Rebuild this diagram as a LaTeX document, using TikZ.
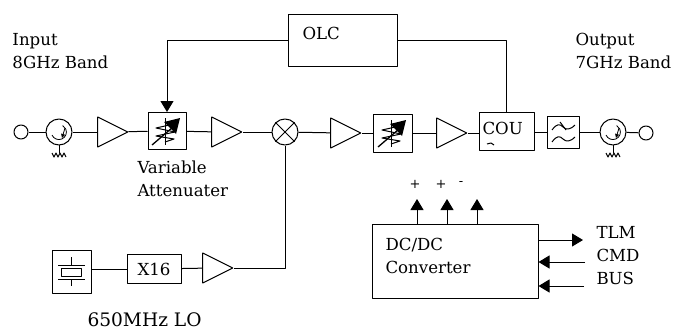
\documentclass[tikz,border=0pt]{standalone}
\usepackage{fontspec}
\setmainfont{DejaVu Serif}
\usetikzlibrary{shapes.geometric,arrows.meta}
\tikzset{
	box/.style={draw,rectangle,inner sep=0pt},
	amp/.style={draw,isosceles triangle,isosceles triangle stretches,inner sep=0pt,minimum width=30pt,minimum height=30pt,shape border rotate=0},
	ring/.style={draw,circle,inner sep=0pt,minimum size=#1},
	txt/.style={inner sep=0pt,anchor=base west,font=\fontsize{16.6}{19}\selectfont},
	% icons drawn inside the blocks
	attn/.pic={
		\draw (-2,-13)--(-2,14);
		\draw (-2,-9)--(7,-7)--(-11,-3)--(8,1)--(-11,5)--(7,8)--(-2,11);
		\draw[line width=1.3pt] (-15,14)--(6,-4);
		\fill (-3,-9)--(13,-13)--(9,3)--cycle;
	},
	circ/.pic={
		\draw[line width=.8pt] (-7,3) arc (157:-60:7.5);
		\draw[line width=.8pt,-{Stealth[inset=0pt,length=4pt,width=4pt]}] (6,-4)--(3,6);
		\draw (0,13)--(0,21);
		\draw (-7,21)--(-5,25)--(-3,21)--(-1,25)--(1,21)--(3,25)--(5,21)--(7,25);
	}
}
\begin{document}
\begin{tikzpicture}[x=1pt,y=-1pt,line width=1pt,>={Stealth[inset=0pt,length=11pt,width=13pt]},line join=round]
	\useasboundingbox (0,0) rectangle (674,329);
	% main chain
	\node[ring=14pt] (portin) at (21,132) {};
	\node[ring=26pt] (circin) at (59,132) {};
	\pic at (circin) {circ};
	\node[amp] (ampa) at (107,132) {};
	\node[box,minimum width=38pt,minimum height=37pt] (attna) at (167,131) {};
	\pic at (attna) {attn};
	\node[amp] (ampb) at (221,132) {};
	\node[ring=26pt] (mixer) at (285,132) {};
	\draw (mixer.north west)--(mixer.south east) (mixer.north east)--(mixer.south west);
	\node[amp] (ampc) at (340,133) {};
	\node[box,minimum width=39pt,minimum height=38pt] (attnb) at (393,133) {};
	\pic at (attnb) {attn};
	\node[amp] (ampd) at (446,133) {};
	\node[box,minimum width=55pt,minimum height=38pt] (cou) at (506.5,131) {};
	\node[box,minimum width=32pt,minimum height=32pt] (lpf) at (563,132) {};
	\draw (552,130) .. controls (557,123) and (560,124) .. (563,127) .. controls (566,130) and (570,130) .. (575,125);
	\draw (560,122)--(566,130);
	\draw (552,142) .. controls (557,135) and (560,136) .. (563,139) .. controls (566,142) and (570,142) .. (575,137);
	\node[ring=26pt] (circout) at (613,132) {};
	\pic at (circout) {circ};
	\node[ring=14pt] (portout) at (646,133) {};
	\draw (portin)--(circin);
	\draw (circin)--(ampa);
	\draw (ampa)--(attna);
	\draw (attna)--(ampb);
	\draw (ampb)--(mixer);
	\draw (mixer)--(ampc);
	\draw (ampc)--(attnb);
	\draw (attnb)--(ampd);
	\draw (ampd)--(ampd-|cou.west);
	\draw (cou)++(27.5,1)--(lpf);
	\draw (lpf)--(circout);
	\draw (circout)--(portout);
	\node[txt] (lblcou) at (482,134) {COU};
	\draw (487,144)--(491,143)--(494,145);
	% level control loop
	\node[box,minimum width=109pt,minimum height=51pt] (olc) at (342.5,40.5) {};
	\node[txt] (lblolc) at (302,40) {OLC};
	\draw[->] (olc.west) -| (attna.north);
	\draw (olc.east) -| (cou.north);
	% local oscillator
	\node[box,minimum width=39pt,minimum height=43pt] (xtal) at (71.5,271.5) {};
	\draw (58,265)--(85,265) (58,279)--(85,279) (71,257)--(71,265) (71,279)--(71,286);
	\draw (61,268) rectangle (81,276);
	\node[box,minimum width=54pt,minimum height=29pt,font=\fontsize{16.6}{19}\selectfont] (mult) at (154,269) {X16};
	\node[amp] (ampe) at (212,268) {};
	\draw (xtal.east|-mult)--(mult);
	\draw (mult)--(ampe);
	\draw (mixer.south) |- (ampe.east);
	% power supply
	\node[box,minimum width=166pt,minimum height=74pt] (dcdc) at (455,261) {};
	\coordinate (outa) at (417,199);
	\coordinate (outb) at (447,199);
	\coordinate (outc) at (477,199);
	\draw[->] (outa|-dcdc.north)--(outa);
	\draw[->] (outb|-dcdc.north)--(outb);
	\draw[->] (outc|-dcdc.north)--(outc);
	\coordinate (tlm) at (583,240);
	\coordinate (cmd) at (585,262);
	\coordinate (bus) at (584,286);
	\draw[->] (tlm-|dcdc.east)--(tlm);
	\draw[->] (cmd)--(cmd-|dcdc.east);
	\draw[->] (bus)--(bus-|dcdc.east);
	% labels
	\node[txt] (lblin) at (12,46) {Input};
	\node[txt] (lblinb) at (12,69) {8GHz Band};
	\node[txt] (lblout) at (575,46) {Output};
	\node[txt] (lbloutb) at (575,69) {7GHz Band};
	\node[txt] (lblvar) at (137,173) {Variable};
	\node[txt] (lblatt) at (137,196) {Attenuater};
	\node[txt,font=\fontsize{18.6}{22}\selectfont] (lbllo) at (87,326) {650MHz LO};
	\node[txt] (lbldc) at (385,250) {DC/DC};
	\node[txt] (lblconv) at (385,273) {Converter};
	\node[txt] (lbltlm) at (596,238) {TLM};
	\node[txt] (lblcmd) at (596,261) {CMD};
	\node[txt] (lblbus) at (596,284) {BUS};
	\node[txt,anchor=center,font=\fontsize{13}{15}\selectfont] (lblpa) at (415,184) {+};
	\node[txt,anchor=center,font=\fontsize{13}{15}\selectfont] (lblpb) at (441,184) {+};
	\node[txt,anchor=center,font=\fontsize{13}{15}\selectfont] (lblpc) at (461,184) {-};
\end{tikzpicture}
\end{document}
